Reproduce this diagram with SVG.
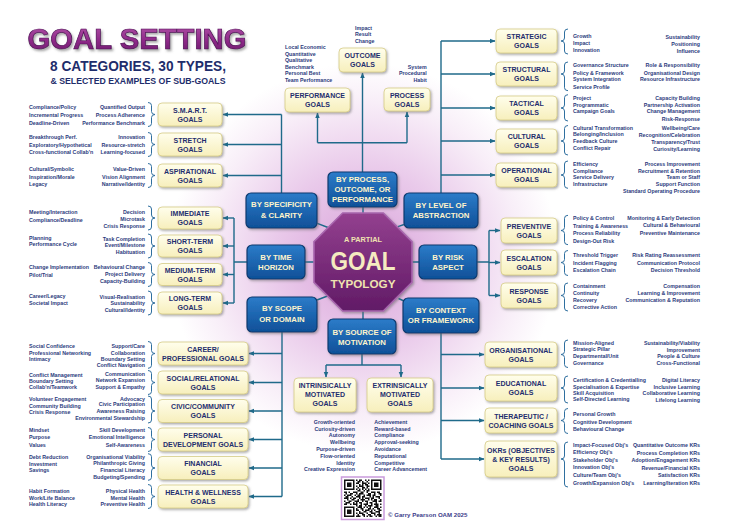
<svg xmlns="http://www.w3.org/2000/svg" width="730" height="532" viewBox="0 0 730 532">
<defs>
  <radialGradient id="glow" cx="363" cy="258" r="195" gradientUnits="userSpaceOnUse">
    <stop offset="0" stop-color="#D9A2D9"/>
    <stop offset="0.45" stop-color="#E9C9EA"/>
    <stop offset="0.8" stop-color="#F8EEF8"/>
    <stop offset="1" stop-color="#FFFFFF"/>
  </radialGradient>
  <linearGradient id="cream" x1="0" y1="0" x2="0" y2="1">
    <stop offset="0" stop-color="#FFFEEC"/>
    <stop offset="1" stop-color="#F7EFBC"/>
  </linearGradient>
  <linearGradient id="blue" x1="0" y1="0" x2="0" y2="1">
    <stop offset="0" stop-color="#2C7CC9"/>
    <stop offset="1" stop-color="#0F5098"/>
  </linearGradient>
  <linearGradient id="oct" x1="0" y1="0" x2="0" y2="1">
    <stop offset="0" stop-color="#93408F"/>
    <stop offset="1" stop-color="#611A66"/>
  </linearGradient>
  <linearGradient id="ttl" x1="0" y1="0" x2="0" y2="1">
    <stop offset="0" stop-color="#B355A9"/>
    <stop offset="0.55" stop-color="#8E2A88"/>
    <stop offset="1" stop-color="#6A176A"/>
  </linearGradient>
  <filter id="sh" x="-10%" y="-10%" width="130%" height="145%">
    <feDropShadow dx="1.3" dy="1.5" stdDeviation="0.9" flood-color="#666666" flood-opacity="0.55"/>
  </filter>
  <filter id="tsh" x="-5%" y="-20%" width="115%" height="150%">
    <feDropShadow dx="1.5" dy="2" stdDeviation="1.2" flood-color="#555555" flood-opacity="0.5"/>
  </filter>
  <marker id="ah" viewBox="0 0 10 10" refX="9" refY="5" markerWidth="4" markerHeight="4" orient="auto">
    <path d="M0,1 L10,5 L0,9 z" fill="#1F6A8A"/>
  </marker>
  <style>
    .gb{fill:url(#cream);stroke:#D5CB86;stroke-width:.8;filter:url(#sh)}
    .cb{fill:url(#blue);stroke:#0A3A70;stroke-width:1.2;filter:url(#sh)}
    .gl{font-family:'Liberation Sans',Arial,sans-serif;font-weight:bold;font-size:7px;fill:#1F2E6E;text-anchor:middle}
    .cl{font-family:'Liberation Sans',Arial,sans-serif;font-weight:bold;font-size:7.8px;fill:#FFF4CC;text-anchor:middle}
    .s{font-family:'Liberation Sans',Arial,sans-serif;font-weight:bold;font-size:5.3px;fill:#2C3B7D}
    .e{text-anchor:end}
    .br{fill:none;stroke:#2F6F9F;stroke-width:1}
    .cn{fill:none;stroke:#1F6A8A;stroke-width:1.4}
    .ar{marker-end:url(#ah)}
  </style>
</defs>

<!-- background -->
<rect width="730" height="532" fill="#FFFFFF"/>
<rect width="730" height="532" fill="url(#glow)"/>

<!-- title -->
<g id="title">
  <text x="137" y="49" text-anchor="middle" font-family="'Liberation Sans',Arial,sans-serif" font-weight="bold" font-size="29" textLength="219" lengthAdjust="spacingAndGlyphs" fill="url(#ttl)" stroke="#4E0E56" stroke-width="0.7" filter="url(#tsh)">GOAL SETTING</text>
  <text x="138" y="71" text-anchor="middle" font-family="'Liberation Sans',Arial,sans-serif" font-weight="bold" font-size="14" textLength="176" lengthAdjust="spacingAndGlyphs" fill="#1E2D6B">8 CATEGORIES, 30 TYPES,</text>
  <text x="138" y="83.5" text-anchor="middle" font-family="'Liberation Sans',Arial,sans-serif" font-weight="bold" font-size="9.8" textLength="175" lengthAdjust="spacingAndGlyphs" fill="#1E2D6B">&amp; SELECTED EXAMPLES OF SUB-GOALS</text>
</g>

<!-- connectors -->
<g id="connectors">
  <!-- spokes from the centre -->
  <path class="cn" d="M363 213V207M317.3 223.3L328 227.5M398 226.7L404 224.5M305 262H314M412 262H419M317 300L327.5 296M404 301L398.5 298.5M363 311V319"/>
  <!-- by process, outcome or performance -->
  <path class="cn ar" d="M362.5 172V73"/>
  <path class="cn" d="M317.5 142.7H407"/>
  <path class="cn ar" d="M317.5 142.7V113"/>
  <path class="cn ar" d="M407 142.7V112"/>
  <!-- by specificity -->
  <path class="cn" d="M281.5 193V114.5"/>
  <path class="cn ar" d="M281.5 114.5H223"/>
  <path class="cn ar" d="M281.5 144.5H223"/>
  <path class="cn ar" d="M281.5 175.5H223"/>
  <!-- by time horizon -->
  <path class="cn" d="M247 262H234M234 218V303"/>
  <path class="cn ar" d="M234 218H223"/>
  <path class="cn ar" d="M234 246H223"/>
  <path class="cn ar" d="M234 274.5H223"/>
  <path class="cn ar" d="M234 303H223"/>
  <!-- by scope -->
  <path class="cn" d="M282 332V496.5"/>
  <path class="cn ar" d="M282 353.5H249"/>
  <path class="cn ar" d="M282 382.5H249"/>
  <path class="cn ar" d="M282 411H249"/>
  <path class="cn ar" d="M282 439.5H249"/>
  <path class="cn ar" d="M282 468H249"/>
  <path class="cn ar" d="M282 496.5H249"/>
  <!-- by source of motivation -->
  <path class="cn" d="M362 354V365M326 365H401"/>
  <path class="cn ar" d="M326 365V377"/>
  <path class="cn ar" d="M401 365V377"/>
  <!-- by level of abstraction -->
  <path class="cn" d="M441 193V41"/>
  <path class="cn ar" d="M441 41H495"/>
  <path class="cn ar" d="M441 74H495"/>
  <path class="cn ar" d="M441 108H495"/>
  <path class="cn ar" d="M441 141H495"/>
  <path class="cn ar" d="M441 175H495"/>
  <!-- by risk aspect -->
  <path class="cn" d="M477 262H489M489 230.5V295.5"/>
  <path class="cn ar" d="M489 230.5H500"/>
  <path class="cn ar" d="M489 262.5H500"/>
  <path class="cn ar" d="M489 295.5H500"/>
  <!-- by context -->
  <path class="cn" d="M441 333V459"/>
  <path class="cn ar" d="M441 354.5H484"/>
  <path class="cn ar" d="M441 388H484"/>
  <path class="cn ar" d="M441 420.5H484"/>
  <path class="cn ar" d="M441 459H484"/>
</g>

<!-- centre -->
<g id="centre">
  <polygon points="342.7,213 383.3,213 412,241.7 412,282.3 383.3,311 342.7,311 314,282.3 314,241.7" fill="url(#oct)" stroke="#A865AE" stroke-width="1.6" filter="url(#sh)"/>
  <text x="363" y="241.7" text-anchor="middle" font-family="'Liberation Sans',Arial,sans-serif" font-weight="bold" font-size="7.3" fill="#EFE3B0">A PARTIAL</text>
  <text x="363" y="270" text-anchor="middle" font-family="'Liberation Sans',Arial,sans-serif" font-weight="bold" font-size="25" textLength="65" lengthAdjust="spacingAndGlyphs" fill="#F5EBC0">GOAL</text>
  <text x="363" y="287.7" text-anchor="middle" font-family="'Liberation Sans',Arial,sans-serif" font-weight="bold" font-size="11.7" fill="#EFE3B0">TYPOLOGY</text>
</g>

<!-- categories -->
<g id="cat-process"><rect class="cb" x="328" y="172" width="69" height="35" rx="5"/>
  <text class="cl" x="362.5" y="181.8">BY PROCESS,</text><text class="cl" x="362.5" y="191.8">OUTCOME, OR</text><text class="cl" x="362.5" y="201.5">PERFORMANCE</text></g>
<g id="cat-specificity"><rect class="cb" x="246" y="193" width="71" height="35" rx="5"/>
  <text class="cl" x="281.5" y="207.1">BY SPECIFICITY</text><text class="cl" x="281.5" y="217.5">&amp; CLARITY</text></g>
<g id="cat-abstraction"><rect class="cb" x="404" y="193" width="74" height="35" rx="5"/>
  <text class="cl" x="441" y="207.8">BY LEVEL OF</text><text class="cl" x="441" y="218.1">ABSTRACTION</text></g>
<g id="cat-time"><rect class="cb" x="247" y="245" width="58" height="34" rx="5"/>
  <text class="cl" x="276" y="259.5">BY TIME</text><text class="cl" x="276" y="270.1">HORIZON</text></g>
<g id="cat-risk"><rect class="cb" x="419" y="245" width="58" height="34" rx="5"/>
  <text class="cl" x="448" y="259.5">BY RISK</text><text class="cl" x="448" y="270.1">ASPECT</text></g>
<g id="cat-scope"><rect class="cb" x="247" y="297" width="70" height="35" rx="5"/>
  <text class="cl" x="282" y="311.1">BY SCOPE</text><text class="cl" x="282" y="321.8">OR DOMAIN</text></g>
<g id="cat-context"><rect class="cb" x="403" y="298" width="76" height="35" rx="5"/>
  <text class="cl" x="441" y="312.5">BY CONTEXT</text><text class="cl" x="441" y="322.8">OR FRAMEWORK</text></g>
<g id="cat-motivation"><rect class="cb" x="328" y="319" width="68" height="35" rx="5"/>
  <text class="cl" x="362" y="334.5">BY SOURCE OF</text><text class="cl" x="362" y="344.5">MOTIVATION</text></g>

<!-- process / outcome / performance goals -->
<g id="outcome"><rect class="gb" x="339" y="48" width="47" height="24" rx="4"/>
  <text class="gl" x="362.5" y="58.05">OUTCOME</text><text class="gl" x="362.5" y="67.05">GOALS</text>
  <text class="s" x="355" y="29.9">Impact</text><text class="s" x="355" y="36.2">Result</text><text class="s" x="355" y="42.6">Change</text></g>
<g id="performance"><rect class="gb" x="285" y="88" width="65" height="24" rx="4"/>
  <text class="gl" x="317.5" y="98.05">PERFORMANCE</text><text class="gl" x="317.5" y="107.05">GOALS</text>
  <text class="s" x="285" y="49.2">Local Economic</text><text class="s" x="285" y="55.6">Quantitative</text><text class="s" x="285" y="62.2">Qualitative</text><text class="s" x="285" y="68.6">Benchmark</text><text class="s" x="285" y="75.2">Personal Best</text><text class="s" x="285" y="81.9">Team Performance</text></g>
<g id="process"><rect class="gb" x="384" y="88" width="46" height="23" rx="4"/>
  <text class="gl" x="407" y="97.55">PROCESS</text><text class="gl" x="407" y="106.55">GOALS</text>
  <text class="s e" x="426.7" y="68.6">System</text><text class="s e" x="426.7" y="75.2">Procedural</text><text class="s e" x="426.7" y="81.9">Habit</text></g>

<!-- specificity goals -->
<g id="smart"><rect class="gb" x="158" y="103" width="64" height="23" rx="4"/>
  <text class="gl" x="190" y="112.55">S.M.A.R.T.</text><text class="gl" x="190" y="121.55">GOALS</text>
  <path class="br" d="M148 102.5Q151.5 102.5 151.5 105.5V111.5Q151.5 114.5 155 114.5Q151.5 114.5 151.5 117.5V123.5Q151.5 126.5 148 126.5"/>
  <text class="s" x="29" y="108.9">Compliance/Policy</text><text class="s" x="29" y="116.9">Incremental Progress</text><text class="s" x="29" y="124.9">Deadline-Driven</text>
  <text class="s e" x="145" y="108.9">Quantified Output</text><text class="s e" x="145" y="116.9">Process Adherence</text><text class="s e" x="145" y="124.9">Performance Benchmark</text></g>
<g id="stretch"><rect class="gb" x="158" y="133" width="64" height="23" rx="4"/>
  <text class="gl" x="190" y="142.55">STRETCH</text><text class="gl" x="190" y="151.55">GOALS</text>
  <path class="br" d="M148 132.5Q151.5 132.5 151.5 135.5V141.5Q151.5 144.5 155 144.5Q151.5 144.5 151.5 147.5V153.5Q151.5 156.5 148 156.5"/>
  <text class="s" x="29" y="139.2">Breakthrough Perf.</text><text class="s" x="29" y="146.9">Exploratory/Hypothetical</text><text class="s" x="29" y="154.2">Cross-functional Collab'n</text>
  <text class="s e" x="145" y="139.2">Innovation</text><text class="s e" x="145" y="146.9">Resource-stretch</text><text class="s e" x="145" y="154.2">Learning-focused</text></g>
<g id="aspirational"><rect class="gb" x="158" y="164" width="64" height="23" rx="4"/>
  <text class="gl" x="190" y="173.55">ASPIRATIONAL</text><text class="gl" x="190" y="182.55">GOALS</text>
  <path class="br" d="M148 163.5Q151.5 163.5 151.5 166.5V172.5Q151.5 175.5 155 175.5Q151.5 175.5 151.5 178.5V184.5Q151.5 187.5 148 187.5"/>
  <text class="s" x="29" y="171.4">Cultural/Symbolic</text><text class="s" x="29" y="178.6">Inspiration/Morale</text><text class="s" x="29" y="185.9">Legacy</text>
  <text class="s e" x="145" y="171.4">Value-Driven</text><text class="s e" x="145" y="178.6">Vision Alignment</text><text class="s e" x="145" y="185.9">Narrative/Identity</text></g>

<!-- time horizon goals -->
<g id="immediate"><rect class="gb" x="158" y="207" width="64" height="22" rx="4"/>
  <text class="gl" x="190" y="216.05">IMMEDIATE</text><text class="gl" x="190" y="225.05">GOALS</text>
  <path class="br" d="M148 206Q151.5 206 151.5 209V215Q151.5 218 155 218Q151.5 218 151.5 221V227Q151.5 230 148 230"/>
  <text class="s" x="29" y="214.2">Meeting/Interaction</text><text class="s" x="29" y="221.9">Compliance/Deadline</text>
  <text class="s e" x="145" y="213.6">Decision</text><text class="s e" x="145" y="220.6">Microtask</text><text class="s e" x="145" y="227.6">Crisis Response</text></g>
<g id="short-term"><rect class="gb" x="158" y="235" width="64" height="22" rx="4"/>
  <text class="gl" x="190" y="244.05">SHORT-TERM</text><text class="gl" x="190" y="253.05">GOALS</text>
  <path class="br" d="M148 234Q151.5 234 151.5 237V243Q151.5 246 155 246Q151.5 246 151.5 249V255Q151.5 258 148 258"/>
  <text class="s" x="29" y="239.6">Planning</text><text class="s" x="29" y="246.2">Performance Cycle</text>
  <text class="s e" x="145" y="240.6">Task Completion</text><text class="s e" x="145" y="247.2">Event/Milestone</text><text class="s e" x="145" y="254.2">Habituation</text></g>
<g id="medium-term"><rect class="gb" x="158" y="263.5" width="64" height="22" rx="4"/>
  <text class="gl" x="190" y="272.55">MEDIUM-TERM</text><text class="gl" x="190" y="281.55">GOALS</text>
  <path class="br" d="M148 262.5Q151.5 262.5 151.5 265.5V271.5Q151.5 274.5 155 274.5Q151.5 274.5 151.5 277.5V283.5Q151.5 286.5 148 286.5"/>
  <text class="s" x="29" y="269.2">Change Implementation</text><text class="s" x="29" y="276.9">Pilot/Trial</text>
  <text class="s e" x="145" y="269.2">Behavioural Change</text><text class="s e" x="145" y="275.9">Project Delivery</text><text class="s e" x="145" y="282.9">Capacity-Building</text></g>
<g id="long-term"><rect class="gb" x="158" y="292" width="64" height="22" rx="4"/>
  <text class="gl" x="190" y="301.05">LONG-TERM</text><text class="gl" x="190" y="310.05">GOALS</text>
  <path class="br" d="M148 291Q151.5 291 151.5 294V300Q151.5 303 155 303Q151.5 303 151.5 306V312Q151.5 315 148 315"/>
  <text class="s" x="29" y="298.2">Career/Legacy</text><text class="s" x="29" y="304.6">Societal Impact</text>
  <text class="s e" x="145" y="298.9">Visual-Realisation</text><text class="s e" x="145" y="304.6">Sustainability</text><text class="s e" x="145" y="311.9">Cultural/Identity</text></g>

<!-- scope goals -->
<g id="career"><rect class="gb" x="158" y="342" width="90" height="23" rx="4"/>
  <text class="gl" x="203" y="351.55">CAREER/</text><text class="gl" x="203" y="360.55">PROFESSIONAL GOALS</text>
  <path class="br" d="M148 341.5Q151.5 341.5 151.5 344.5V350.5Q151.5 353.5 155 353.5Q151.5 353.5 151.5 356.5V365.3Q151.5 368.3 148 368.3"/>
  <text class="s" x="29" y="347.6">Social Confidence</text><text class="s" x="29" y="354.6">Professional Networking</text><text class="s" x="29" y="361.2">Intimacy</text>
  <text class="s e" x="145" y="347.6">Support/Care</text><text class="s e" x="145" y="354.6">Collaboration</text><text class="s e" x="145" y="360.6">Boundary Setting</text><text class="s e" x="145" y="367.2">Conflict Navigation</text></g>
<g id="social"><rect class="gb" x="158" y="371" width="90" height="23" rx="4"/>
  <text class="gl" x="203" y="380.55">SOCIAL/RELATIONAL</text><text class="gl" x="203" y="389.55">GOALS</text>
  <path class="br" d="M148 370.5Q151.5 370.5 151.5 373.5V379.5Q151.5 382.5 155 382.5Q151.5 382.5 151.5 385.5V391.5Q151.5 394.5 148 394.5"/>
  <text class="s" x="29" y="376.6">Conflict Management</text><text class="s" x="29" y="382.9">Boundary Setting</text><text class="s" x="29" y="388.9">Collab'n/Teamwork</text>
  <text class="s e" x="145" y="376.2">Communication</text><text class="s e" x="145" y="381.9">Network Expansion</text><text class="s e" x="145" y="388.9">Support &amp; Empathy</text></g>
<g id="civic"><rect class="gb" x="158" y="399.5" width="90" height="23" rx="4"/>
  <text class="gl" x="203" y="409.05">CIVIC/COMMUNITY</text><text class="gl" x="203" y="418.05">GOALS</text>
  <path class="br" d="M148 396Q151.5 396 151.5 399V408Q151.5 411 155 411Q151.5 411 151.5 414V420Q151.5 423 148 423"/>
  <text class="s" x="29" y="401.2">Volunteer Engagement</text><text class="s" x="29" y="407.9">Community Building</text><text class="s" x="29" y="414.2">Crisis Response</text>
  <text class="s e" x="145" y="400.9">Advocacy</text><text class="s e" x="145" y="406.2">Civic Participation</text><text class="s e" x="145" y="413.2">Awareness Raising</text><text class="s e" x="145" y="419.9">Environmental Stewardship</text></g>
<g id="personal"><rect class="gb" x="158" y="428" width="90" height="23" rx="4"/>
  <text class="gl" x="203" y="437.55">PERSONAL</text><text class="gl" x="203" y="446.55">DEVELOPMENT GOALS</text>
  <path class="br" d="M148 427.5Q151.5 427.5 151.5 430.5V436.5Q151.5 439.5 155 439.5Q151.5 439.5 151.5 442.5V448.5Q151.5 451.5 148 451.5"/>
  <text class="s" x="29" y="431.9">Mindset</text><text class="s" x="29" y="439.2">Purpose</text><text class="s" x="29" y="446.6">Values</text>
  <text class="s e" x="145" y="431.9">Skill Development</text><text class="s e" x="145" y="439.2">Emotional Intelligence</text><text class="s e" x="145" y="446.6">Self-Awareness</text></g>
<g id="financial"><rect class="gb" x="158" y="456.5" width="90" height="23" rx="4"/>
  <text class="gl" x="203" y="466.05">FINANCIAL</text><text class="gl" x="203" y="475.05">GOALS</text>
  <path class="br" d="M148 453.7Q151.5 453.7 151.5 456.7V465Q151.5 468 155 468Q151.5 468 151.5 471V477.3Q151.5 480.3 148 480.3"/>
  <text class="s" x="29" y="458.6">Debt Reduction</text><text class="s" x="29" y="465.9">Investment</text><text class="s" x="29" y="471.9">Savings</text>
  <text class="s e" x="145" y="458.6">Organisational Viability</text><text class="s e" x="145" y="465.2">Philanthropic Giving</text><text class="s e" x="145" y="472.2">Financial Literacy</text><text class="s e" x="145" y="479.2">Budgeting/Spending</text></g>
<g id="health"><rect class="gb" x="158" y="485" width="90" height="23" rx="4"/>
  <text class="gl" x="203" y="494.55">HEALTH &amp; WELLNESS</text><text class="gl" x="203" y="503.55">GOALS</text>
  <path class="br" d="M148 484.5Q151.5 484.5 151.5 487.5V493.5Q151.5 496.5 155 496.5Q151.5 496.5 151.5 499.5V505.5Q151.5 508.5 148 508.5"/>
  <text class="s" x="29" y="492.9">Habit Formation</text><text class="s" x="29" y="499.6">Work/Life Balance</text><text class="s" x="29" y="506.2">Health Literacy</text>
  <text class="s e" x="145" y="492.9">Physical Health</text><text class="s e" x="145" y="499.6">Mental Health</text><text class="s e" x="145" y="506.2">Preventive Health</text></g>

<!-- motivation goals -->
<g id="intrinsic"><rect class="gb" x="294" y="378" width="62" height="34" rx="4"/>
  <text class="gl" x="325" y="387.9">INTRINSICALLY</text><text class="gl" x="325" y="396.9">MOTIVATED</text><text class="gl" x="325" y="405.9">GOALS</text>
  <text class="s e" x="355" y="423.6">Growth-oriented</text><text class="s e" x="355" y="430.6">Curiosity-driven</text><text class="s e" x="355" y="437.2">Autonomy</text><text class="s e" x="355" y="444.2">Wellbeing</text><text class="s e" x="355" y="450.9">Purpose-driven</text><text class="s e" x="355" y="457.9">Flow-oriented</text><text class="s e" x="355" y="464.6">Identity</text><text class="s e" x="355" y="471.2">Creative Expression</text></g>
<g id="extrinsic"><rect class="gb" x="367" y="378" width="66" height="34" rx="4"/>
  <text class="gl" x="400" y="387.9">EXTRINSICALLY</text><text class="gl" x="400" y="396.9">MOTIVATED</text><text class="gl" x="400" y="405.9">GOALS</text>
  <text class="s" x="374.3" y="423.6">Achievement</text><text class="s" x="374.3" y="430.6">Reward-based</text><text class="s" x="374.3" y="437.2">Compliance</text><text class="s" x="374.3" y="444.2">Approval-seeking</text><text class="s" x="374.3" y="450.9">Avoidance</text><text class="s" x="374.3" y="457.9">Reputational</text><text class="s" x="374.3" y="464.6">Competitive</text><text class="s" x="374.3" y="471.2">Career Advancement</text></g>

<!-- abstraction goals -->
<g id="strategic"><rect class="gb" x="496" y="29" width="61" height="24" rx="4"/>
  <text class="gl" x="526.5" y="39.05">STRATEGIC</text><text class="gl" x="526.5" y="48.05">GOALS</text>
  <path class="br" d="M568 29Q564.5 29 564.5 32V38Q564.5 41 561 41Q564.5 41 564.5 44V51Q564.5 54 568 54"/>
  <text class="s" x="573" y="37.9">Growth</text><text class="s" x="573" y="45.2">Impact</text><text class="s" x="573" y="51.9">Innovation</text>
  <text class="s e" x="700" y="38.6">Sustainability</text><text class="s e" x="700" y="45.9">Positioning</text><text class="s e" x="700" y="52.6">Influence</text></g>
<g id="structural"><rect class="gb" x="496" y="62" width="61" height="24" rx="4"/>
  <text class="gl" x="526.5" y="72.05">STRUCTURAL</text><text class="gl" x="526.5" y="81.05">GOALS</text>
  <path class="br" d="M568 62Q564.5 62 564.5 65V71Q564.5 74 561 74Q564.5 74 564.5 77V87.7Q564.5 90.7 568 90.7"/>
  <text class="s" x="573" y="67.2">Governance Structure</text><text class="s" x="573" y="74.6">Policy &amp; Framework</text><text class="s" x="573" y="81.2">System Integration</text><text class="s" x="573" y="88.6">Service Profile</text>
  <text class="s e" x="700" y="67.2">Role &amp; Responsibility</text><text class="s e" x="700" y="74.6">Organisational Design</text><text class="s e" x="700" y="81.2">Resource Infrastructure</text></g>
<g id="tactical"><rect class="gb" x="496" y="96" width="61" height="24" rx="4"/>
  <text class="gl" x="526.5" y="106.05">TACTICAL</text><text class="gl" x="526.5" y="115.05">GOALS</text>
  <path class="br" d="M568 94.7Q564.5 94.7 564.5 97.7V105Q564.5 108 561 108Q564.5 108 564.5 111V118Q564.5 121 568 121"/>
  <text class="s" x="573" y="99.6">Project</text><text class="s" x="573" y="106.6">Programmatic</text><text class="s" x="573" y="113.2">Campaign Goals</text>
  <text class="s e" x="700" y="99.6">Capacity Building</text><text class="s e" x="700" y="106.6">Partnership Activation</text><text class="s e" x="700" y="113.2">Change Management</text><text class="s e" x="700" y="120.6">Risk-Response</text></g>
<g id="cultural"><rect class="gb" x="496" y="129" width="61" height="24" rx="4"/>
  <text class="gl" x="526.5" y="139.05">CULTURAL</text><text class="gl" x="526.5" y="148.05">GOALS</text>
  <path class="br" d="M568 125.5Q564.5 125.5 564.5 128.5V138Q564.5 141 561 141Q564.5 141 564.5 144V152Q564.5 155 568 155"/>
  <text class="s" x="573" y="129.6">Cultural Transformation</text><text class="s" x="573" y="136.2">Belonging/Inclusion</text><text class="s" x="573" y="142.9">Feedback Culture</text><text class="s" x="573" y="149.6">Conflict Repair</text>
  <text class="s e" x="700" y="129.6">Wellbeing/Care</text><text class="s e" x="700" y="136.9">Recognition/Celebration</text><text class="s e" x="700" y="143.9">Transparency/Trust</text><text class="s e" x="700" y="151.2">Curiosity/Learning</text></g>
<g id="operational"><rect class="gb" x="496" y="163" width="61" height="24" rx="4"/>
  <text class="gl" x="526.5" y="173.05">OPERATIONAL</text><text class="gl" x="526.5" y="182.05">GOALS</text>
  <path class="br" d="M568 161Q564.5 161 564.5 164V172Q564.5 175 561 175Q564.5 175 564.5 178V185.3Q564.5 188.3 568 188.3"/>
  <text class="s" x="573" y="165.9">Efficiency</text><text class="s" x="573" y="172.6">Compliance</text><text class="s" x="573" y="179.2">Service Delivery</text><text class="s" x="573" y="186.2">Infrastructure</text>
  <text class="s e" x="700" y="165.9">Process Improvement</text><text class="s e" x="700" y="172.6">Recruitment &amp; Retention</text><text class="s e" x="700" y="179.2">Team or Staff</text><text class="s e" x="700" y="186.2">Support Function</text><text class="s e" x="700" y="192.9">Standard Operating Procedure</text></g>

<!-- risk goals -->
<g id="preventive"><rect class="gb" x="501" y="218" width="56" height="25" rx="4"/>
  <text class="gl" x="529" y="228.55">PREVENTIVE</text><text class="gl" x="529" y="237.55">GOALS</text>
  <path class="br" d="M568 215.3Q564.5 215.3 564.5 218.3V227.5Q564.5 230.5 561 230.5Q564.5 230.5 564.5 233.5V241.7Q564.5 244.7 568 244.7"/>
  <text class="s" x="573" y="220.2">Policy &amp; Control</text><text class="s" x="573" y="227.6">Training &amp; Awareness</text><text class="s" x="573" y="235.2">Process Reliability</text><text class="s" x="573" y="242.6">Design-Out Risk</text>
  <text class="s e" x="700" y="219.6">Monitoring &amp; Early Detection</text><text class="s e" x="700" y="226.9">Cultural &amp; Behavioural</text><text class="s e" x="700" y="234.6">Preventive Maintenance</text></g>
<g id="escalation"><rect class="gb" x="501" y="250" width="56" height="25" rx="4"/>
  <text class="gl" x="529" y="260.55">ESCALATION</text><text class="gl" x="529" y="269.55">GOALS</text>
  <path class="br" d="M568 250.5Q564.5 250.5 564.5 253.5V259.5Q564.5 262.5 561 262.5Q564.5 262.5 564.5 265.5V272.5Q564.5 275.5 568 275.5"/>
  <text class="s" x="573" y="256.9">Threshold Trigger</text><text class="s" x="573" y="264.6">Incident Flagging</text><text class="s" x="573" y="272.2">Escalation Chain</text>
  <text class="s e" x="700" y="256.9">Risk Rating Reassessment</text><text class="s e" x="700" y="264.6">Communication Protocol</text><text class="s e" x="700" y="272.2">Decision Threshold</text></g>
<g id="response"><rect class="gb" x="501" y="283" width="56" height="25" rx="4"/>
  <text class="gl" x="529" y="293.55">RESPONSE</text><text class="gl" x="529" y="302.55">GOALS</text>
  <path class="br" d="M568 283Q564.5 283 564.5 286V292.5Q564.5 295.5 561 295.5Q564.5 295.5 564.5 298.5V308Q564.5 311 568 311"/>
  <text class="s" x="573" y="287.9">Containment</text><text class="s" x="573" y="294.9">Continuity</text><text class="s" x="573" y="301.9">Recovery</text><text class="s" x="573" y="308.9">Corrective Action</text>
  <text class="s e" x="700" y="287.9">Compensation</text><text class="s e" x="700" y="294.9">Learning &amp; Improvement</text><text class="s e" x="700" y="301.9">Communication &amp; Reputation</text></g>

<!-- context goals -->
<g id="organisational"><rect class="gb" x="485" y="342" width="72" height="25" rx="4"/>
  <text class="gl" x="521" y="352.55">ORGANISATIONAL</text><text class="gl" x="521" y="361.55">GOALS</text>
  <path class="br" d="M568 340Q564.5 340 564.5 343V351.5Q564.5 354.5 561 354.5Q564.5 354.5 564.5 357.5V364.5Q564.5 367.5 568 367.5"/>
  <text class="s" x="573" y="344.9">Mission-Aligned</text><text class="s" x="573" y="351.2">Strategic Pillar</text><text class="s" x="573" y="357.9">Departmental/Unit</text><text class="s" x="573" y="364.9">Governance</text>
  <text class="s e" x="700" y="344.9">Sustainability/Viability</text><text class="s e" x="700" y="351.6">Improvement</text><text class="s e" x="700" y="357.9">People &amp; Culture</text><text class="s e" x="700" y="364.9">Cross-Functional</text></g>
<g id="educational"><rect class="gb" x="485" y="375" width="72" height="26" rx="4"/>
  <text class="gl" x="521" y="386.05">EDUCATIONAL</text><text class="gl" x="521" y="395.05">GOALS</text>
  <path class="br" d="M568 376Q564.5 376 564.5 379V385Q564.5 388 561 388Q564.5 388 564.5 391V400Q564.5 403 568 403"/>
  <text class="s" x="573" y="381.9">Certification &amp; Credentialling</text><text class="s" x="573" y="388.6">Specialisation &amp; Expertise</text><text class="s" x="573" y="394.9">Skill Acquisition</text><text class="s" x="573" y="400.9">Self-Directed Learning</text>
  <text class="s e" x="700" y="381.9">Digital Literacy</text><text class="s e" x="700" y="388.6">Inclusive Learning</text><text class="s e" x="700" y="395.2">Collaborative Learning</text><text class="s e" x="700" y="401.9">Lifelong Learning</text></g>
<g id="therapeutic"><rect class="gb" x="485" y="408" width="72" height="25" rx="4"/>
  <text class="gl" x="521" y="418.55">THERAPEUTIC /</text><text class="gl" x="521" y="427.55">COACHING GOALS</text>
  <path class="br" d="M568 408.5Q564.5 408.5 564.5 411.5V417.5Q564.5 420.5 561 420.5Q564.5 420.5 564.5 423.5V430.5Q564.5 433.5 568 433.5"/>
  <text class="s" x="573" y="415.9">Personal Growth</text><text class="s" x="573" y="423.6">Cognitive Development</text><text class="s" x="573" y="431.2">Behavioural Change</text></g>
<g id="okrs"><rect class="gb" x="485" y="441" width="72" height="36" rx="4"/>
  <text class="gl" x="521" y="452.5">OKRs (OBJECTIVES</text><text class="gl" x="521" y="461.5">&amp; KEY RESULTS)</text><text class="gl" x="521" y="470.5">GOALS</text>
  <path class="br" d="M568 442Q564.5 442 564.5 445V456Q564.5 459 561 459Q564.5 459 564.5 462V484Q564.5 487 568 487"/>
  <text class="s" x="573" y="446.9">Impact-Focused Obj's</text><text class="s" x="573" y="453.9">Efficiency Obj's</text><text class="s" x="573" y="461.6">Stakeholder Obj's</text><text class="s" x="573" y="469.2">Innovation Obj's</text><text class="s" x="573" y="477.2">Culture/Team Obj's</text><text class="s" x="573" y="484.9">Growth/Expansion Obj's</text>
  <text class="s e" x="700" y="446.9">Quantitative Outcome KRs</text><text class="s e" x="700" y="454.9">Process Completion KRs</text><text class="s e" x="700" y="462.2">Adoption/Engagement KRs</text><text class="s e" x="700" y="469.9">Revenue/Financial KRs</text><text class="s e" x="700" y="477.2">Satisfaction KRs</text><text class="s e" x="700" y="484.9">Learning/Iteration KRs</text></g>

<!-- QR code and credit -->
<g id="qr">
  <rect x="341.5" y="477" width="42.5" height="42.5" fill="#FFFFFF" stroke="#C99ADB" stroke-width="1.5"/>
  <g transform="translate(344 479.5) scale(1.5)" fill="#111111">
    <path fill-rule="evenodd" d="M0 0h7v7h-7zM1 1v5h5v-5zM2 2h3v3h-3zM18 0h7v7h-7zM19 1v5h5v-5zM20 2h3v3h-3zM0 18h7v7h-7zM1 19v5h5v-5zM2 20h3v3h-3z"/>
    <path d="M8 0h1v1h-1zM10 0h2v1h-2zM14 0h1v1h-1zM16 0h1v1h-1zM9 1h2v1h-2zM12 1h1v1h-1zM15 1h1v1h-1zM8 2h2v1h-2zM12 2h3v1h-3zM16 2h1v1h-1zM10 3h1v1h-1zM12 3h1v1h-1zM14 3h2v1h-2zM8 4h1v1h-1zM10 4h3v1h-3zM15 4h2v1h-2zM9 5h1v1h-1zM12 5h2v1h-2zM15 5h1v1h-1zM8 6h1v1h-1zM10 6h1v1h-1zM12 6h1v1h-1zM14 6h1v1h-1zM16 6h1v1h-1zM9 7h2v1h-2zM13 7h1v1h-1zM15 7h2v1h-2zM0 8h2v1h-2zM3 8h1v1h-1zM6 8h3v1h-3zM11 8h2v1h-2zM15 8h1v1h-1zM18 8h3v1h-3zM22 8h2v1h-2zM1 9h1v1h-1zM4 9h2v1h-2zM8 9h1v1h-1zM10 9h3v1h-3zM16 9h2v1h-2zM20 9h1v1h-1zM23 9h2v1h-2zM0 10h1v1h-1zM2 10h3v1h-3zM7 10h1v1h-1zM9 10h2v1h-2zM13 10h1v1h-1zM15 10h3v1h-3zM19 10h2v1h-2zM24 10h1v1h-1zM1 11h2v1h-2zM5 11h1v1h-1zM8 11h3v1h-3zM12 11h2v1h-2zM17 11h1v1h-1zM19 11h1v1h-1zM21 11h3v1h-3zM0 12h3v1h-3zM4 12h1v1h-1zM6 12h2v1h-2zM10 12h1v1h-1zM12 12h1v1h-1zM14 12h3v1h-3zM18 12h2v1h-2zM23 12h1v1h-1zM2 13h1v1h-1zM5 13h2v1h-2zM9 13h1v1h-1zM11 13h3v1h-3zM16 13h1v1h-1zM18 13h1v1h-1zM20 13h2v1h-2zM24 13h1v1h-1zM0 14h1v1h-1zM3 14h2v1h-2zM7 14h3v1h-3zM12 14h1v1h-1zM14 14h2v1h-2zM19 14h3v1h-3zM23 14h2v1h-2zM1 15h3v1h-3zM6 15h1v1h-1zM8 15h1v1h-1zM10 15h2v1h-2zM15 15h1v1h-1zM17 15h2v1h-2zM21 15h1v1h-1zM0 16h2v1h-2zM4 16h1v1h-1zM6 16h3v1h-3zM11 16h1v1h-1zM13 16h3v1h-3zM18 16h1v1h-1zM20 16h3v1h-3zM24 16h1v1h-1zM8 17h1v1h-1zM10 17h2v1h-2zM14 17h1v1h-1zM16 17h3v1h-3zM21 17h2v1h-2zM9 18h3v1h-3zM13 18h1v1h-1zM15 18h1v1h-1zM17 18h1v1h-1zM20 18h3v1h-3zM24 18h1v1h-1zM8 19h1v1h-1zM11 19h2v1h-2zM16 19h2v1h-2zM19 19h1v1h-1zM22 19h2v1h-2zM8 20h2v1h-2zM12 20h1v1h-1zM14 20h3v1h-3zM18 20h1v1h-1zM20 20h1v1h-1zM23 20h2v1h-2zM10 21h1v1h-1zM13 21h2v1h-2zM17 21h2v1h-2zM21 21h3v1h-3zM8 22h1v1h-1zM10 22h3v1h-3zM15 22h1v1h-1zM18 22h3v1h-3zM23 22h1v1h-1zM9 23h1v1h-1zM12 23h2v1h-2zM16 23h2v1h-2zM20 23h1v1h-1zM22 23h3v1h-3zM8 24h3v1h-3zM13 24h1v1h-1zM15 24h1v1h-1zM17 24h2v1h-2zM21 24h1v1h-1zM23 24h2v1h-2z"/>
  </g>
</g>
<text x="388" y="516.5" font-family="'Liberation Sans',Arial,sans-serif" font-weight="bold" font-size="6.1" fill="#3C3C8A">© Garry Pearson OAM 2025</text>
</svg>
